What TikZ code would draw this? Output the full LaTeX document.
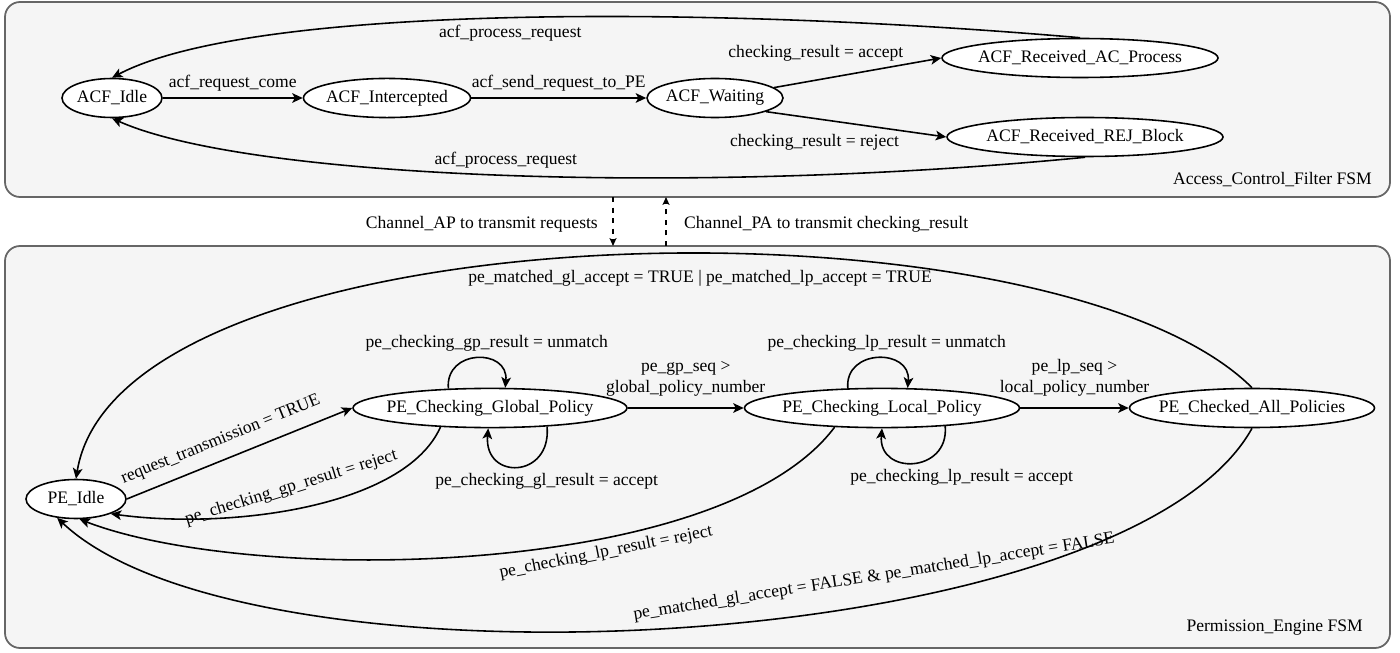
\documentclass[tikz,border=0pt]{standalone}
\usepackage{fontspec}
\setmainfont{Liberation Serif}
\usepackage{tikz}
\usetikzlibrary{arrows.meta,shapes.geometric}
\definecolor{panelfill}{HTML}{F5F5F5}
\definecolor{panelline}{HTML}{666666}

\begin{document}
\begin{tikzpicture}[x={(1cm,0cm)}, y={(0cm,1cm)},
  state/.style={draw,ellipse,fill=white,line width=0.9pt,inner xsep=-12pt,minimum height=0.78cm},
  panel/.style={draw=panelline,fill=panelfill,line width=1pt,rounded corners=0.3cm,inner sep=0pt,outer sep=0pt},
  edge/.style={line width=0.9pt,-{Stealth[length=6pt,width=5.5pt,inset=1.5pt]}},
  channel/.style={line width=0.8pt,dash pattern=on 3pt off 3pt,-{Stealth[length=4.5pt,width=4pt,inset=1pt]}}]
  \useasboundingbox (0,0) rectangle (28,13.04);

  % Panels
  \node[panel,minimum width=27.7cm,minimum height=3.9cm] (ACFPanel) at (13.95,11.05) {};
  \node[panel,minimum width=27.7cm,minimum height=8.04cm] (PEPanel) at (13.95,4.1) {};
  \node[anchor=east] (ACFTitle) at (27.56,9.44) {Access\_Control\_Filter FSM};
  \node[anchor=east] (PETitle) at (27.38,0.48) {Permission\_Engine FSM};

  % Nodes
  \node[state,minimum width=2cm] (ACFIdle) at (2.24,11.08) {ACF\_Idle};
  \node[state,minimum width=3.34cm] (ACFIntercepted) at (7.74,11.08) {ACF\_Intercepted};
  \node[state,minimum width=2.72cm] (ACFWaiting) at (14.3,11.08) {ACF\_Waiting};
  \node[state,minimum width=5.52cm] (ACFRecAC) at (21.6,11.88) {ACF\_Received\_AC\_Process};
  \node[state,minimum width=5.52cm] (ACFRecREJ) at (21.7,10.3) {ACF\_Received\_REJ\_Block};

  \node[state,minimum width=2cm] (PEIdle) at (1.52,3.06) {PE\_Idle};
  \node[state,minimum width=5.48cm] (PEGlobal) at (9.8,4.88) {PE\_Checking\_Global\_Policy};
  \node[state,minimum width=5.5cm] (PELocal) at (17.64,4.88) {PE\_Checking\_Local\_Policy};
  \node[state,minimum width=4.9cm] (PEChecked) at (25.04,4.88) {PE\_Checked\_All\_Policies};

  % Channels
  \coordinate (APx) at (12.26,0);
  \coordinate (PAx) at (13.32,0);
  \node[anchor=east] (APLabel) at (12.08,8.56) {Channel\_AP to transmit requests};
  \node[anchor=west] (PALabel) at (13.56,8.56) {Channel\_PA to transmit checking\_result};
  \draw[channel] (ACFPanel.south -| APx) -- (PEPanel.north -| APx);
  \draw[channel] (PEPanel.north -| PAx) -- (ACFPanel.south -| PAx);

  % Edges
  \draw[edge] (ACFIdle) -- (ACFIntercepted) node[midway,above] {acf\_request\_come};
  \draw[edge] (ACFIntercepted) -- (ACFWaiting) node[midway,above] {acf\_send\_request\_to\_PE};
  \draw[edge] (ACFWaiting.10) -- (ACFRecAC.west) node[pos=0.25,above=7pt] {checking\_result = accept};
  \draw[edge] (ACFWaiting.-15) -- (ACFRecREJ.west) node[pos=0.27,below=5pt] {checking\_result = reject};
  \draw[edge] (ACFRecAC.north) .. controls (14,12.94) and (5,12.94) .. (ACFIdle.north)
    node[pos=0.5,below,xshift=0.1cm] {acf\_process\_request};
  \draw[edge] (ACFRecREJ.south) .. controls (14,9.14) and (5,9.44) .. (ACFIdle.south)
    node[pos=0.5,above] {acf\_process\_request};

  \draw[edge] (PEIdle.east) -- (PEGlobal.west) node[pos=0.45,sloped,above=3pt] {request\_transmission = TRUE};
  \draw[edge] (PEGlobal) -- (PELocal) node[midway,above=3pt,align=center] {pe\_gp\_seq >\\global\_policy\_number};
  \draw[edge] (PELocal) -- (PEChecked) node[midway,above=3pt,align=center] {pe\_lp\_seq >\\local\_policy\_number};
  \draw[edge] (PEGlobal.201) .. controls (8.1,2.9) and (4.6,2.44) .. (PEIdle.-23)
    node[pos=0.53,above=4pt,rotate=17] {pe\_checking\_gp\_result = reject};
  \draw[edge] (PELocal.202) .. controls (14.4,1.44) and (5,1.34) .. (PEIdle.-80)
    node[pos=0.36,sloped,below] {pe\_checking\_lp\_result = reject};
  \draw[edge] (PEChecked.south) .. controls (22.5,-0.1) and (5,-0.96) .. (PEIdle.225)
    node[pos=0.37,above=7pt,rotate=9] {pe\_matched\_gl\_accept = FALSE \& pe\_matched\_lp\_accept = FALSE};
  \draw[edge] (PEChecked.north) .. controls (21,9.3) and (2.4,8.9) .. (PEIdle.north)
    node[pos=0.44,below=6pt] {pe\_matched\_gl\_accept = TRUE | pe\_matched\_lp\_accept = TRUE};

  % Loops
  \draw[edge] (PEGlobal.155) .. controls +(95:0.8) and +(85:0.8) .. (PEGlobal.53)
    node[midway,above,xshift=0.2cm] {pe\_checking\_gp\_result = unmatch};
  \draw[edge] (PEGlobal.-18) .. controls +(-85:1.05) and +(-95:1.05) .. (PEGlobal.265)
    node[midway,below,xshift=0.58cm] {pe\_checking\_gl\_result = accept};
  \draw[edge] (PELocal.150) .. controls +(95:0.8) and +(85:0.8) .. (PELocal.38)
    node[midway,above,xshift=0.18cm] {pe\_checking\_lp\_result = unmatch};
  \draw[edge] (PELocal.-16) .. controls +(-85:0.95) and +(-95:0.95) .. (PELocal.270)
    node[midway,below,xshift=0.96cm] {pe\_checking\_lp\_result = accept};
\end{tikzpicture}
\end{document}
